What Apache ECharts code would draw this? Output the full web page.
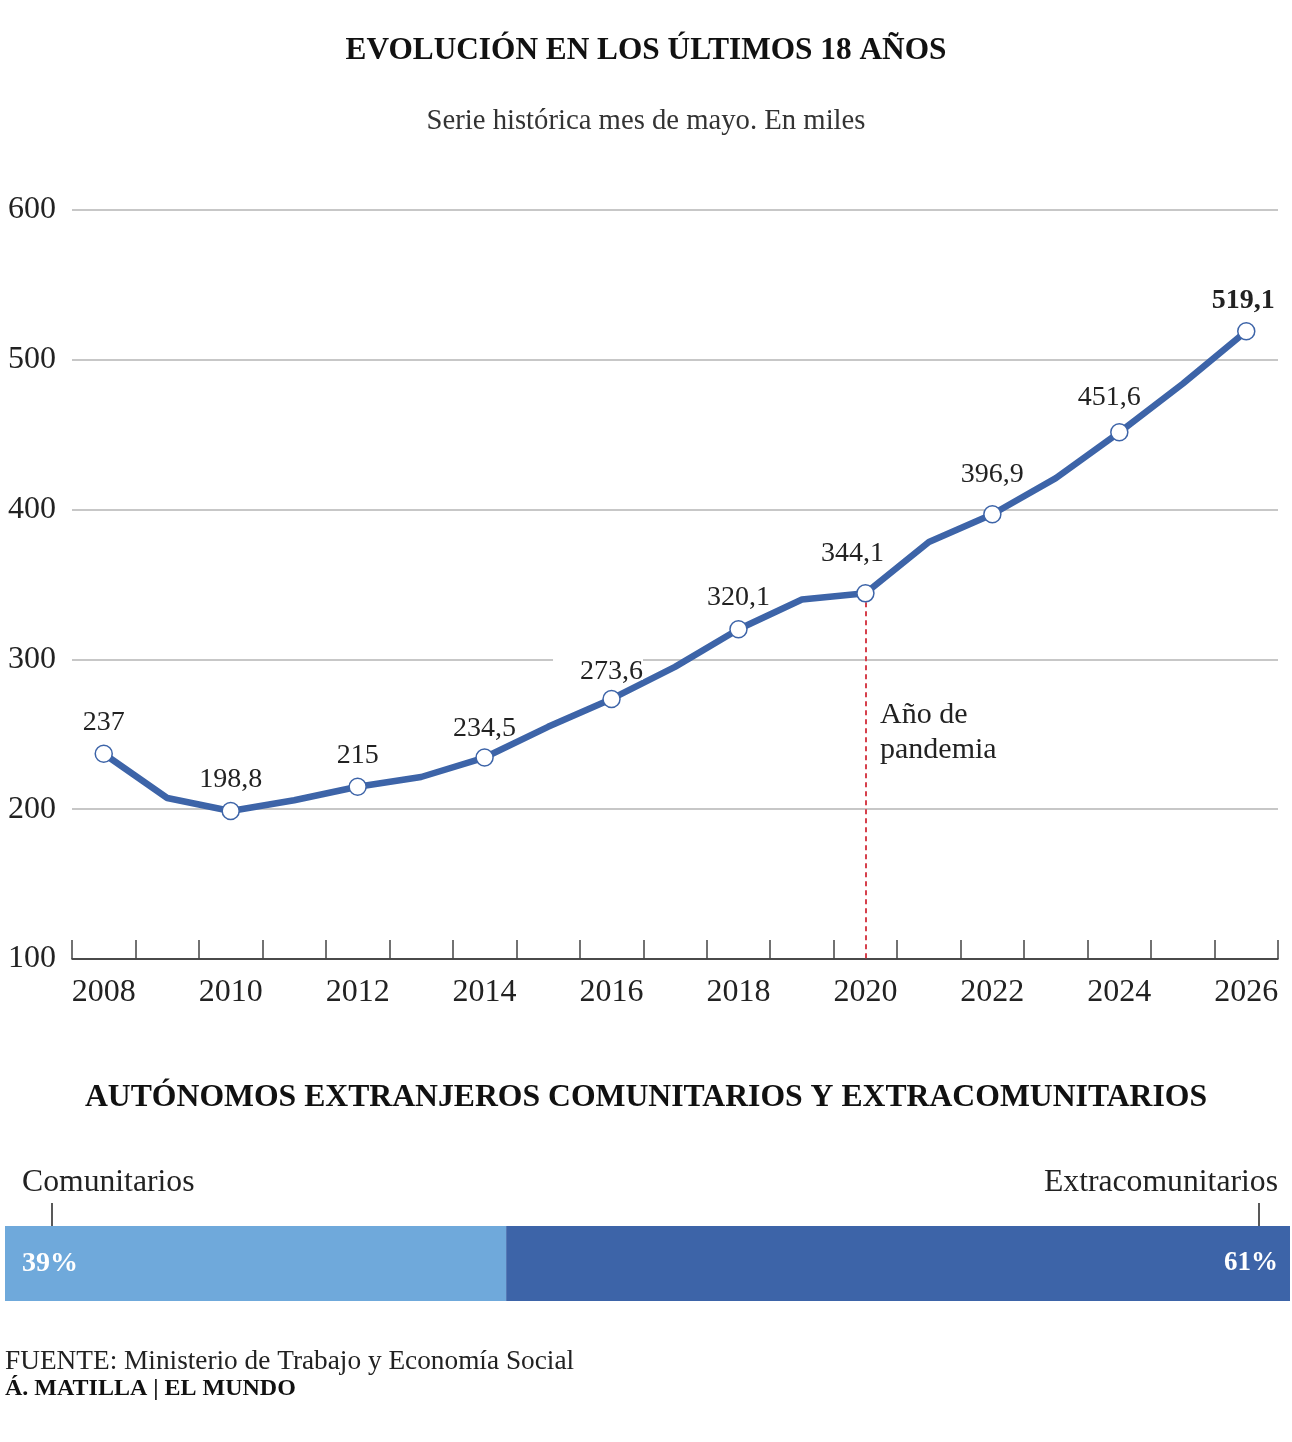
<!DOCTYPE html>
<html>
<head>
<meta charset="utf-8">
<script src="https://cdn.jsdelivr.net/npm/echarts@6/dist/echarts.min.js"></script>
<style>
  html, body { margin: 0; padding: 0; background: #fff; }
  #chart { width: 1292px; height: 1442px; }
</style>
</head>
<body>
<div id="chart"></div>
<script>
// ---- data ----
const years = ['2008','2009','2010','2011','2012','2013','2014','2015','2016','2017','2018','2019','2020','2021','2022','2023','2024','2025','2026'];
const values = [237, 207.5, 198.8, 206, 215, 221.5, 234.5, 255, 273.6, 295, 320.1, 340, 344.1, 378.4, 396.9, 421, 451.6, 484, 519.1];
const markedYears = ['2008','2010','2012','2014','2016','2018','2020','2022','2024','2026'];
const boldYear = '2026';
const pandemicYear = '2020';
const yMin = 100, yMax = 600, yStep = 100;
const shareNames = ['Comunitarios', 'Extracomunitarios'];
const shareValues = [39, 61];

const titleText = 'EVOLUCIÓN EN LOS ÚLTIMOS 18 AÑOS';
const subtitleText = 'Serie histórica mes de mayo. En miles';
const title2Text = 'AUTÓNOMOS EXTRANJEROS COMUNITARIOS Y EXTRACOMUNITARIOS';
const annotationText = 'Año de\npandemia';
const sourceText = 'FUENTE: Ministerio de Trabajo y Economía Social';
const creditText = 'Á. MATILLA | EL MUNDO';

// ---- styles ----
const FONT = "'Liberation Serif', 'Times New Roman', serif";
const BLUE = '#3d64a8';
const LIGHT = '#6fa9db';
const TEXT = '#222';

// label nudges (styling only), keyed by year
const labelOffsets = {
  '2014': [0, 2],
  '2020': [-13, -8],
  '2022': [0, -8],
  '2024': [-10, -3],
  '2026': [-3, 1]
};
// label that masks the gridline behind it, as in the original
const maskedLabelYear = '2016';

const fmt = v => String(v).replace('.', ',');

const lineData = values.map((v, i) => {
  const y = years[i];
  const marked = markedYears.includes(y);
  const label = {
    show: marked,
    fontWeight: y === boldYear ? 'bold' : 'normal',
    offset: labelOffsets[y] || [0, 0]
  };
  if (y === maskedLabelYear) {
    label.backgroundColor = '#fff';
    label.padding = [9, 0, 0, 27];
    label.lineHeight = 16;
    label.offset = [-13.5, -2];
  }
  return { value: v, symbol: marked ? 'circle' : 'none', label };
});

const chart = echarts.init(document.getElementById('chart'), null, { renderer: 'canvas' });

chart.setOption({
  animation: false,
  backgroundColor: '#fff',
  textStyle: { fontFamily: FONT },
  grid: [
    { left: 72, width: 1206, top: 210, height: 749 },
    { left: 5, width: 1285, top: 1226, height: 75 }
  ],
  xAxis: [
    {
      gridIndex: 0,
      type: 'category',
      data: years,
      boundaryGap: true,
      axisLine: { show: true, lineStyle: { color: '#222', width: 1.5 } },
      axisTick: { show: true, inside: true, length: 19, interval: 0, lineStyle: { color: '#444', width: 1.5 } },
      axisLabel: { interval: 1, fontSize: 32, color: TEXT, margin: 18, fontFamily: FONT },
      splitLine: { show: false }
    },
    { gridIndex: 1, type: 'value', min: 0, max: 100, show: false }
  ],
  yAxis: [
    {
      gridIndex: 0,
      type: 'value',
      min: yMin, max: yMax, interval: yStep,
      axisLine: { show: false },
      axisTick: { show: false },
      axisLabel: { fontSize: 32, color: TEXT, align: 'left', margin: 64, fontFamily: FONT },
      splitLine: { show: true, lineStyle: { color: '#b5b5b5', width: 1.5 } }
    },
    { gridIndex: 1, type: 'category', data: ['share'], show: false }
  ],
  series: [
    {
      type: 'line',
      xAxisIndex: 0, yAxisIndex: 0,
      data: lineData,
      z: 3,
      symbolSize: 17,
      lineStyle: { color: BLUE, width: 6.5, join: 'round' },
      itemStyle: { color: '#fff', borderColor: BLUE, borderWidth: 1.5 },
      label: {
        position: 'top',
        distance: 8,
        fontSize: 28,
        color: TEXT,
        fontFamily: FONT,
        formatter: p => fmt(p.value)
      },
      markLine: {
        silent: true,
        z: 1,
        symbol: ['none', 'none'],
        label: { show: false },
        lineStyle: { color: '#d6404c', width: 2, type: [5, 4] },
        data: [[
          { coord: [pandemicYear, values[years.indexOf(pandemicYear)]] },
          { coord: [pandemicYear, yMin] }
        ]]
      }
    },
    {
      type: 'bar',
      xAxisIndex: 1, yAxisIndex: 1,
      stack: 'share',
      barWidth: '100%',
      data: [shareValues[0]],
      itemStyle: { color: LIGHT },
      label: {
        show: true, position: 'insideLeft', distance: 17,
        formatter: p => p.value + '%',
        color: '#fff', fontWeight: 'bold', fontSize: 28, fontFamily: FONT
      }
    },
    {
      type: 'bar',
      xAxisIndex: 1, yAxisIndex: 1,
      stack: 'share',
      barWidth: '100%',
      data: [shareValues[1]],
      itemStyle: { color: BLUE },
      label: {
        show: true, position: 'insideRight', distance: 12,
        formatter: p => p.value + '%',
        color: '#fff', fontWeight: 'bold', fontSize: 27, fontFamily: FONT
      }
    }
  ],
  graphic: [
    { type: 'text', x: 646, y: 51, style: { text: titleText, align: 'center', verticalAlign: 'middle', font: 'bold 31.3px ' + FONT, fill: '#111' } },
    { type: 'text', x: 646, y: 121, style: { text: subtitleText, align: 'center', verticalAlign: 'middle', font: '28.7px ' + FONT, fill: '#333' } },
    { type: 'text', x: 880, y: 698, style: { text: annotationText, align: 'left', verticalAlign: 'top', font: '30px ' + FONT, fill: TEXT, lineHeight: 35 } },
    { type: 'text', x: 646, y: 1098, style: { text: title2Text, align: 'center', verticalAlign: 'middle', font: 'bold 31.7px ' + FONT, fill: '#111' } },
    { type: 'text', x: 22, y: 1183, style: { text: shareNames[0], align: 'left', verticalAlign: 'middle', font: '31.7px ' + FONT, fill: TEXT } },
    { type: 'text', x: 1278, y: 1183, style: { text: shareNames[1], align: 'right', verticalAlign: 'middle', font: '31.7px ' + FONT, fill: TEXT } },
    { type: 'line', shape: { x1: 52, y1: 1203, x2: 52, y2: 1226 }, style: { stroke: '#222', lineWidth: 1.5 } },
    { type: 'line', shape: { x1: 1259, y1: 1203, x2: 1259, y2: 1226 }, style: { stroke: '#222', lineWidth: 1.5 } },
    { type: 'text', x: 5, y: 1362, style: { text: sourceText, align: 'left', verticalAlign: 'middle', font: '27.3px ' + FONT, fill: TEXT } },
    { type: 'text', x: 5, y: 1389, style: { text: creditText, align: 'left', verticalAlign: 'middle', font: 'bold 24px ' + FONT, fill: '#111' } }
  ]
});
</script>
</body>
</html>
